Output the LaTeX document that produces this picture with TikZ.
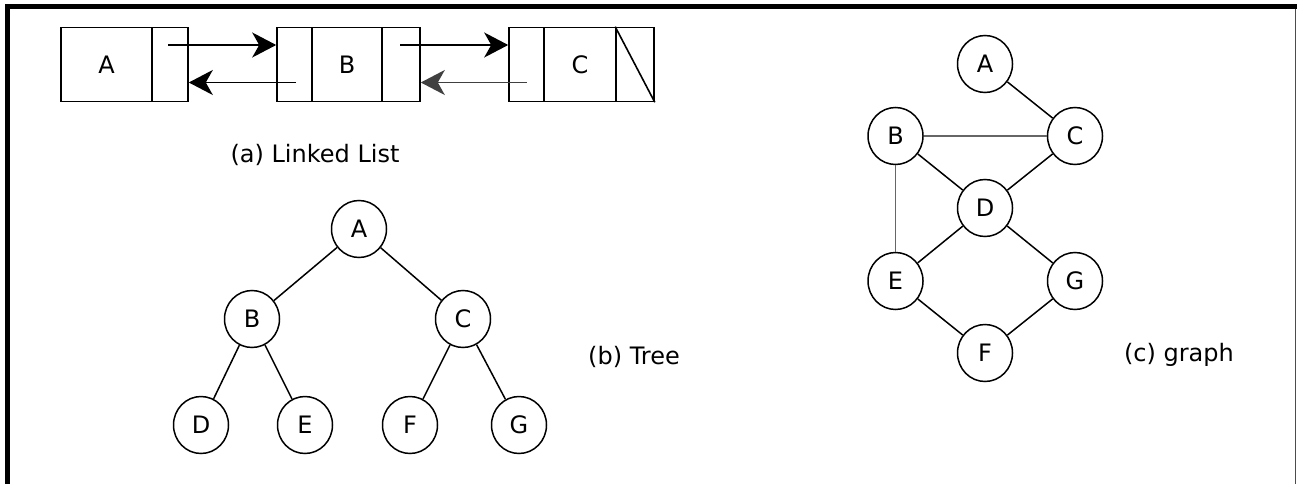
\documentclass[tikz,border=0pt]{standalone}
\usepackage{fontspec}
\setmainfont{DejaVu Sans}
\usetikzlibrary{shapes.geometric,arrows.meta}
\tikzset{
  vtx/.style={draw, ellipse, line width=1.5pt, minimum width=55pt, minimum height=57pt, inner sep=0pt, font=\fontsize{24}{28}\selectfont},
  cell/.style={draw, rectangle, line width=1.6pt, minimum height=74pt, inner sep=0pt, font=\fontsize{24}{28}\selectfont},
  edge/.style={line width=1.5pt},
  lightedge/.style={line width=1.9pt, black!60},
  arr/.style={line width=1.7pt, -{Stealth[length=24pt 0 0, width=25pt 0 0, inset=7pt]}},
  lbl/.style={font=\fontsize{24}{28}\selectfont, inner sep=0pt},
}
\begin{document}
\begin{tikzpicture}[x=1pt,y=-1pt]
\useasboundingbox (0,0) rectangle (1297,484);
% frame
\draw[line width=5pt] (7,484) -- (7,6.5) -- (1297,6.5);
\draw[line width=1.5pt, black!70] (1295.5,9) -- (1295.5,484);

% ---------- (a) linked list ----------
\node[cell, minimum width=91pt] (Aval)  at (106.5,64.5) {A};
\node[cell, minimum width=36pt] (Anext) at (170,64.5) {};
\node[cell, minimum width=35pt] (Bprev) at (294.5,64.5) {};
\node[cell, minimum width=70pt] (Bval)  at (347,64.5) {B};
\node[cell, minimum width=38pt] (Bnext) at (401,64.5) {};
\node[cell, minimum width=35pt] (Cprev) at (526.5,64.5) {};
\node[cell, minimum width=72pt] (Cval)  at (580,64.5) {C};
\node[cell, minimum width=38pt] (Cnext) at (635,64.5) {};
\draw[line width=1.6pt] (Cnext.north west) -- (Cnext.south east);

\draw[arr] ([yshift=19.5pt,xshift=-2pt]Anext.center) -- ([yshift=19.5pt]Bprev.west);
\draw[arr] ([yshift=19.5pt,xshift=-1pt]Bnext.center) -- ([yshift=19.5pt]Cprev.west);
\draw[arr] ([yshift=-18pt,xshift=1.5pt]Bprev.center) -- ([yshift=-18pt]Anext.east);
\draw[arr, black!75] ([yshift=-18pt]Cprev.center) -- ([yshift=-18pt]Bnext.east);

\node[lbl] (la) at (315,155) {(a) Linked List};

% ---------- (b) tree ----------
\node[vtx] (tA) at (359,229) {A};
\node[vtx] (tB) at (252,319) {B};
\node[vtx] (tC) at (463,319) {C};
\node[vtx] (tD) at (201,425) {D};
\node[vtx] (tE) at (305,425) {E};
\node[vtx] (tF) at (410,425) {F};
\node[vtx] (tG) at (519,425) {G};
\draw[edge] (tA) -- (tB);
\draw[edge] (tA) -- (tC);
\draw[edge] (tB) -- (tD);
\draw[edge] (tB) -- (tE);
\draw[edge] (tC) -- (tF);
\draw[edge] (tC) -- (tG);
\node[lbl] (lb) at (634,357) {(b) Tree};

% ---------- (c) graph ----------
\node[vtx] (gA) at (985,64) {A};
\node[vtx] (gB) at (895.5,136) {B};
\node[vtx] (gC) at (1075,136) {C};
\node[vtx] (gD) at (985,208) {D};
\node[vtx] (gE) at (895.5,281) {E};
\node[vtx] (gG) at (1075,281) {G};
\node[vtx] (gF) at (985,353) {F};
\draw[edge] (gA) -- (gC);
\draw[lightedge] (gB) -- (gC);
\draw[edge] (gB) -- (gD);
\draw[edge] (gC) -- (gD);
\draw[lightedge] (gB) -- (gE);
\draw[edge] (gD) -- (gE);
\draw[edge] (gD) -- (gG);
\draw[edge] (gE) -- (gF);
\draw[edge] (gG) -- (gF);
\node[lbl] (lc) at (1179,355) {(c) graph};
\end{tikzpicture}
\end{document}
